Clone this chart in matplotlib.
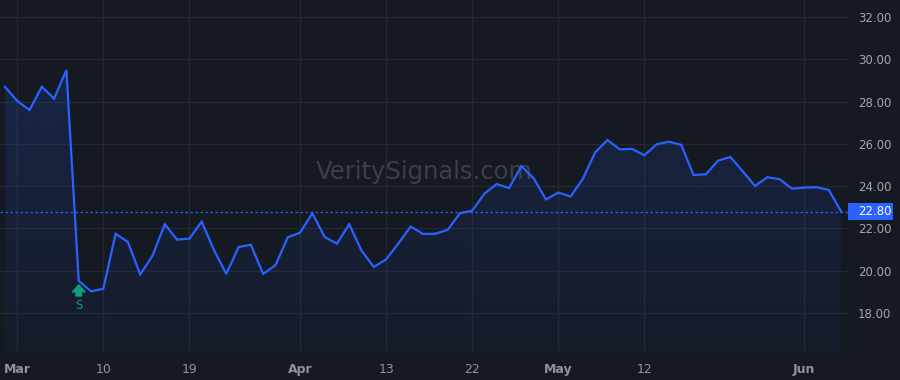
import matplotlib
matplotlib.use('Agg')
import matplotlib.pyplot as plt
import matplotlib.transforms as mtransforms
from matplotlib.patches import Rectangle
import numpy as np

# daily closes, one per trading session (last Feb session .. early Jun)
prices = [28.70, 28.03, 27.60, 28.70, 28.14, 29.49, 19.53, 19.03, 19.15, 21.75,
          21.36, 19.83, 20.71, 22.20, 21.47, 21.52, 22.32, 20.98, 19.85, 21.12,
          21.23, 19.85, 20.26, 21.58, 21.80, 22.72, 21.60, 21.28, 22.20, 20.95,
          20.18, 20.54, 21.30, 22.09, 21.74, 21.75, 21.93, 22.72, 22.84, 23.65,
          24.10, 23.91, 24.95, 24.37, 23.37, 23.70, 23.51, 24.35, 25.60, 26.18,
          25.74, 25.76, 25.46, 25.98, 26.10, 25.95, 24.53, 24.56, 25.21, 25.38,
          24.70, 24.01, 24.42, 24.33, 23.88, 23.93, 23.95, 23.82, 22.80]
# session index of each date label on the time axis
tick_sessions = [1, 8, 15, 24, 31, 38, 45, 52, 65]
tick_labels = ['Mar', '10', '19', 'Apr', '13', '22', 'May', '12', 'Jun']
month_labels = ['Mar', 'Apr', 'May', 'Jun']
price_ticks = [18, 20, 22, 24, 26, 28, 30, 32]
signal_session = 6
signal_text = 'S'
last_price = prices[-1]

bg = '#151922'
grid_c = '#232733'
line_c = '#2962ff'
text_c = '#8f939e'
green = '#0e9f7e'

x = np.arange(len(prices))
y = np.array(prices)

fig = plt.figure(figsize=(9, 3.8), dpi=100, facecolor=bg)
ax = fig.add_axes([0, 28 / 380, 848 / 900, 352 / 380])
ax.set_facecolor(bg)
ax.set_xlim(-0.4, 68.56)
ax.set_ylim(16.16, 32.80)

# grid
ax.set_yticks(price_ticks)
ax.set_yticklabels(['%.2f' % v for v in price_ticks])
ax.set_xticks(tick_sessions)
ax.set_xticklabels(tick_labels)
ax.grid(True, color=grid_c, lw=1)
ax.set_axisbelow(True)
for s in ax.spines.values():
    s.set_visible(False)
ax.yaxis.tick_right()
ax.tick_params(axis='y', length=0, pad=7, labelcolor='#a3a6af', labelsize=8.5)
ax.tick_params(axis='x', length=0, pad=8, labelcolor=text_c, labelsize=9)
for lab in ax.get_xticklabels():
    if lab.get_text() in month_labels:
        lab.set_fontweight('bold')

# gradient fill under the line
poly = ax.fill_between(x, y, 16.16, color='none', lw=0)
grad = np.linspace(0.17, 0.03, 256).reshape(-1, 1)
rgba = np.zeros((256, 1, 4))
rgba[..., 0] = 41 / 255
rgba[..., 1] = 98 / 255
rgba[..., 2] = 1.0
rgba[..., 3] = grad
im = ax.imshow(rgba, extent=[x[0], x[-1], 16.16, 30.0], aspect='auto',
               origin='upper', zorder=1)
path = poly.get_paths()[0]
im.set_clip_path(path, transform=ax.transData)

ax.plot(x, y, color=line_c, lw=1.6, zorder=3, solid_joinstyle='miter')

# last price line + label
ax.axhline(last_price, color=line_c, lw=0.9, ls=(0, (2, 2)), zorder=2)
trans = mtransforms.blended_transform_factory(ax.transAxes, ax.transData)
ax.add_patch(Rectangle((1.0, last_price - 0.38), 45 / 848, 0.76, transform=trans,
                       facecolor=line_c, edgecolor='none', clip_on=False, zorder=5))
ax.text(1.0 + 10 / 848, last_price, '%.2f' % last_price, transform=trans,
        ha='left', va='center', color='white', fontsize=8.5, zorder=6)

# signal marker
sv = prices[signal_session]
ax.annotate('', xy=(signal_session, sv), xytext=(0, -11), textcoords='offset points',
            arrowprops=dict(arrowstyle='simple,head_width=0.9,head_length=0.5,tail_width=0.4',
                            color=green, shrinkA=0, shrinkB=3, mutation_scale=10),
            zorder=6)
ax.annotate(signal_text, xy=(signal_session, sv), xytext=(0, -18),
            textcoords='offset points', ha='center', va='center',
            color=green, fontsize=8.5, zorder=6)

# watermark
ax.text(0.5, 0.51, 'VeritySignals.com', transform=ax.transAxes, ha='center',
        va='center', color='#3a3e49', fontsize=17.5, zorder=0.5)

fig.savefig('out.png', dpi=100, facecolor=bg)
